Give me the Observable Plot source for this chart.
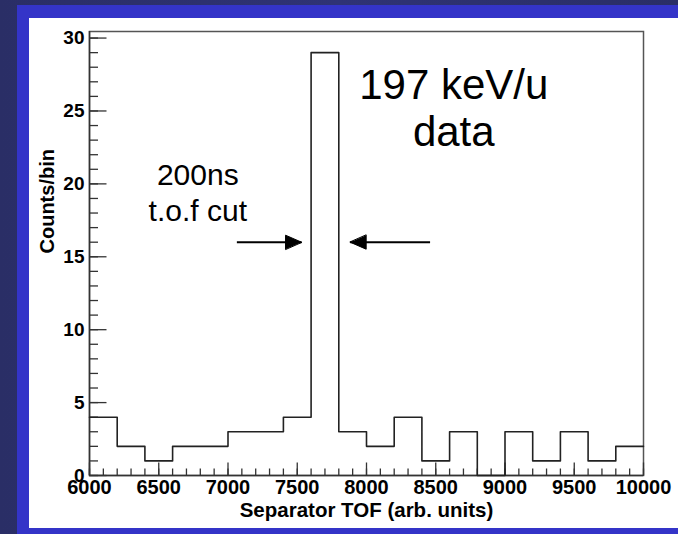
<!DOCTYPE html>
<html>
<head>
<meta charset="utf-8">
<script src="https://cdn.jsdelivr.net/npm/d3@7"></script>
<script src="https://cdn.jsdelivr.net/npm/@observablehq/plot@0.6"></script>
<style>
  html, body { margin: 0; padding: 0; }
  #page { position: relative; width: 678px; height: 534px; overflow: hidden;
          background: linear-gradient(90deg, #2a2e66 0%, #2f3375 50%, #2a2e66 100%); }
  #blue { position: absolute; left: 17px; top: 5px; width: 661px; height: 529px; background: #3434c8; }
  #white { position: absolute; left: 29px; top: 18px; width: 649px; height: 510px; background: #ffffff; }
  #chart { position: absolute; left: 0; top: 0; }
</style>
</head>
<body>
<div id="page">
  <div id="blue"></div>
  <div id="white"></div>
  <div id="chart"></div>
</div>
<script>
// Histogram: bin edges (arb. units) and counts per bin
const binEdges = [6000, 6200, 6400, 6600, 6800, 7000, 7200, 7400, 7600, 7800, 8000,
                  8200, 8400, 8600, 8800, 9000, 9200, 9400, 9600, 9800, 10000];
const counts   = [4, 2, 1, 2, 2, 3, 3, 4, 29, 3, 2, 4, 1, 3, 0, 3, 1, 3, 1, 2];

// Axis ticks
const xMajorTicks = [6000, 6500, 7000, 7500, 8000, 8500, 9000, 9500, 10000];
const xMinorTicks = d3.range(6000, 10001, 100);
const yMajorTicks = [0, 5, 10, 15, 20, 25, 30];
const yMinorTicks = d3.range(0, 31, 1);

// Labels
const xLabel = "Separator TOF (arb. units)";
const yLabel = "Counts/bin";

// Annotations (data coordinates)
const titleText = ["197 keV/u\ndata"];
const titleX = [8630];
const titleY = [22.6];
const cutText = ["200ns\nt.o.f cut"];
const cutX = [6782];
const cutY = [17.45];
const arrowTail = [7064, 8459];
const arrowTip = [7531, 7882];
const arrowLevel = [16, 16];

const steps = binEdges.map((e, i) => ({x: e, y: counts[Math.min(i, counts.length - 1)]}));
const arrows = arrowTail.map((t, i) => ({tail: t, tip: arrowTip[i], y: arrowLevel[i]}));

const tickLine = {draw(ctx, l) { ctx.moveTo(0, 0); ctx.lineTo(0, -l); }};
const headShape = {draw(ctx, l) { ctx.moveTo(0, -l); ctx.lineTo(-7, 0); ctx.lineTo(7, 0); ctx.closePath(); }};

const font = "'Liberation Sans', Arial, Helvetica, sans-serif";

const chart = Plot.plot({
  width: 678,
  height: 534,
  marginLeft: 89,
  marginRight: 35,
  marginTop: 31,
  marginBottom: 59,
  style: {background: "transparent", fontFamily: font, color: "black"},
  x: {domain: [6000, 10000], axis: null},
  y: {domain: [0, 30.45], axis: null},
  marks: [
    Plot.frame({stroke: "#555", strokeWidth: 1.5}),
    Plot.ruleX([6000], {stroke: "#333", strokeWidth: 1.5}),
    Plot.ruleY([0], {stroke: "#333", strokeWidth: 1.5}),
    // x ticks (inward)
    Plot.vector(xMinorTicks, {x: d => d, y: () => 0, length: 7, anchor: "start", shape: tickLine, stroke: "#333", strokeWidth: 1.3, strokeLinecap: "butt"}),
    Plot.vector(xMajorTicks, {x: d => d, y: () => 0, length: 13, anchor: "start", shape: tickLine, stroke: "#333", strokeWidth: 1.3, strokeLinecap: "butt"}),
    // y ticks (inward)
    Plot.vector(yMinorTicks, {x: () => 6000, y: d => d, rotate: 90, length: 8.5, anchor: "start", shape: tickLine, stroke: "#333", strokeWidth: 1.3, strokeLinecap: "butt"}),
    Plot.vector(yMajorTicks, {x: () => 6000, y: d => d, rotate: 90, length: 17, anchor: "start", shape: tickLine, stroke: "#333", strokeWidth: 1.3, strokeLinecap: "butt"}),
    Plot.axisX({ticks: xMajorTicks, tickSize: 0, tickPadding: 4, fontSize: 20, fontWeight: "bold", tickFormat: d => String(d), label: null}),
    Plot.axisY({ticks: yMajorTicks, tickSize: 0, tickPadding: 5, fontSize: 19, fontWeight: "bold", tickFormat: d => String(d), label: null}),
    // histogram outline
    Plot.line(steps, {x: "x", y: "y", curve: "step-after", stroke: "#222", strokeWidth: 1.6}),
    // axis titles
    Plot.text([xLabel], {frameAnchor: "bottom", text: d => d, dy: 41, lineAnchor: "bottom", fontSize: 20.5, fontWeight: "bold"}),
    Plot.text([yLabel], {frameAnchor: "left", text: d => d, dx: -42, rotate: -90, fontSize: 20, fontWeight: "bold"}),
    // annotations
    Plot.text(titleText, {x: (d, i) => titleX[i], y: (d, i) => titleY[i], text: d => d, lineAnchor: "bottom", lineHeight: 1.11, fontSize: 42, fontWeight: "normal"}),
    Plot.text(cutText, {x: (d, i) => cutX[i], y: (d, i) => cutY[i], text: d => d, lineAnchor: "bottom", lineHeight: 1.2, fontSize: 30, fontWeight: "normal"}),
    Plot.link(arrows, {x1: "tail", x2: "tip", y1: "y", y2: "y", stroke: "black", strokeWidth: 2}),
    Plot.vector(arrows, {x: "tip", y: "y", rotate: d => d.tip > d.tail ? 90 : -90, length: 16, anchor: "end", shape: headShape, fill: "black", stroke: "black", strokeWidth: 1})
  ]
});
document.getElementById("chart").appendChild(chart);
</script>
</body>
</html>
